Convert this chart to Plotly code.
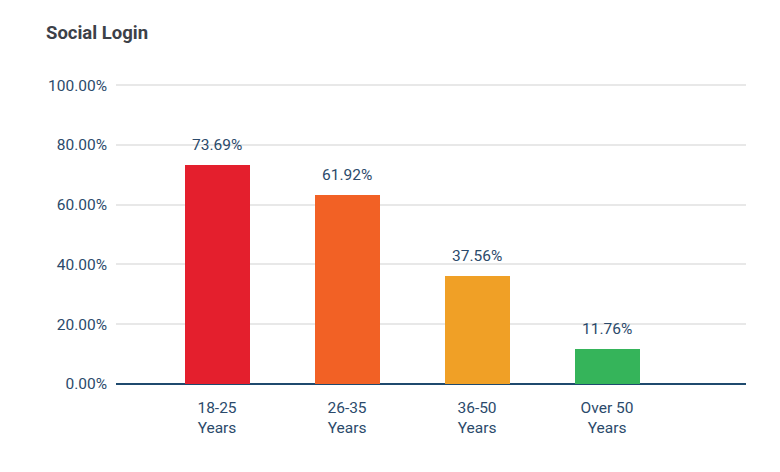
import plotly.graph_objects as go

# Age groups and social login share
categories = ["18-25<br>Years", "26-35<br>Years", "36-50<br>Years", "Over 50<br>Years"]
bar_values = [73.3, 63.3, 36.1, 11.8]
value_labels = ["73.69%", "61.92%", "37.56%", "11.76%"]
bar_colors = ["#e41f2d", "#f26125", "#f0a026", "#35b45a"]
y_ticks = [0, 20, 40, 60, 80, 100]
y_tick_labels = ["0.00%", "20.00%", "40.00%", "60.00%", "80.00%", "100.00%"]

text_color = "#2b4a6b"
FIG_W, FIG_H = 772, 464  # page body has an 8px margin

fig = go.Figure()
fig.add_trace(
    go.Bar(
        x=categories,
        y=bar_values,
        marker=dict(color=bar_colors, line=dict(width=0)),
        width=0.5,
        hoverinfo="skip",
    )
)

# value labels sitting above each bar
for cat, val, lab in zip(categories, bar_values, value_labels):
    fig.add_annotation(
        x=cat, y=val, text=lab, showarrow=False,
        yanchor="bottom", yshift=9,
        font=dict(family="Roboto", size=15.5, color=text_color),
    )

fig.update_layout(
    title=dict(
        text="<b>Social Login</b>",
        x=38 / FIG_W, xref="container", xanchor="left",
        y=1 - 25 / FIG_H, yref="container", yanchor="middle",
        font=dict(family="Roboto", size=18.5, color="#3d4148"),
    ),
    width=FIG_W,
    height=FIG_H,
    margin=dict(l=108, r=34, t=75, b=88),
    plot_bgcolor="white",
    paper_bgcolor="white",
    showlegend=False,
    bargap=0,
)

fig.update_xaxes(
    range=[-0.777, 4.069],
    showgrid=False,
    showline=False,
    zeroline=False,
    ticks="",
    ticklabelstandoff=12,
    tickfont=dict(family="Roboto", size=15.5, color=text_color),
    fixedrange=True,
)
fig.update_yaxes(
    range=[0, 100.7],
    tickvals=y_ticks,
    ticktext=y_tick_labels,
    showgrid=True,
    gridcolor="#e8e8e8",
    gridwidth=2,
    zeroline=True,
    zerolinecolor="#1f4a6e",
    zerolinewidth=2,
    ticks="",
    ticklabelstandoff=8,
    tickfont=dict(family="Roboto", size=15.5, color=text_color),
    fixedrange=True,
)

fig.write_html("out.html")
